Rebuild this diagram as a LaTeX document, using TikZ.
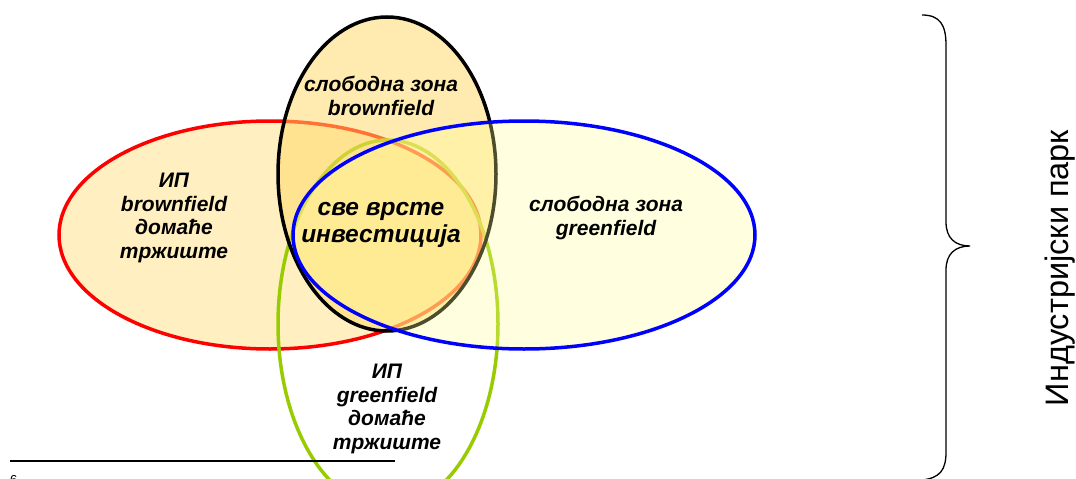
\documentclass[tikz,border=0pt]{standalone}
\usepackage{fontspec}
\setmainfont{Liberation Sans}
\definecolor{goldY}{RGB}{255,217,102}
\definecolor{paleY}{RGB}{255,255,153}
\definecolor{limeG}{RGB}{153,204,0}
\tikzset{
  ring/.style={line width=3.5pt},
  lbl/.style={align=center, font=\fontsize{21}{23.8}\selectfont\bfseries\itshape, inner sep=0pt},
  biglbl/.style={align=center, font=\fontsize{24.5}{26.5}\selectfont\bfseries\itshape, inner sep=0pt}
}
\begin{document}
\begin{tikzpicture}[x=1pt,y=-1pt]
\useasboundingbox (0,0) rectangle (1076,479);
\fill[white] (0,0) rectangle (1076,479);
\clip (0,0) rectangle (1076,479);
% red ellipse
\draw[ring, draw=red, fill=goldY, fill opacity=0.4] (270,235) ellipse [x radius=211pt, y radius=114pt];
% green ellipse
\draw[ring, draw=limeG] (388,324) ellipse [x radius=110pt, y radius=184pt];
% black ellipse
\draw[ring, draw=black, fill=goldY, fill opacity=0.52] (387,174) ellipse [x radius=109pt, y radius=157pt];
% blue ellipse
\draw[ring, draw=blue, fill=paleY, fill opacity=0.3] (524,235) ellipse [x radius=231pt, y radius=114pt];
% footnote rule
\draw[line width=2pt] (10,461) -- (395,461);
\node[font=\fontsize{13}{14}\selectfont, anchor=base west, inner sep=0pt] (fn) at (10,484) {6};
% brace
\draw[line width=1.3pt] (922,15) .. controls (940,15) and (946,25) .. (946,45) -- (946,222) .. controls (946,238) and (955,246) .. (970,246) .. controls (955,246) and (946,254) .. (946,270) -- (946,452) .. controls (946,470) and (940,478) .. (922,480);
% labels
\node[lbl] (fzb) at (381,96) {слободна зона\\brownfield};
\node[lbl] (ipb) at (174,218) {ИП\\brownfield\\домаће\\тржиште};
\node[biglbl] (all) at (381,225) {све врсте\\инвестиција};
\node[lbl] (fzg) at (606,218) {слободна зона\\greenfield};
\node[lbl] (ipg) at (387,409) {ИП\\greenfield\\домаће\\тржиште};
\node[rotate=90, font=\fontsize{32.5}{34}\selectfont, inner sep=0pt] (park) at (1060,268) {Индустријски парк};
\end{tikzpicture}
\end{document}
